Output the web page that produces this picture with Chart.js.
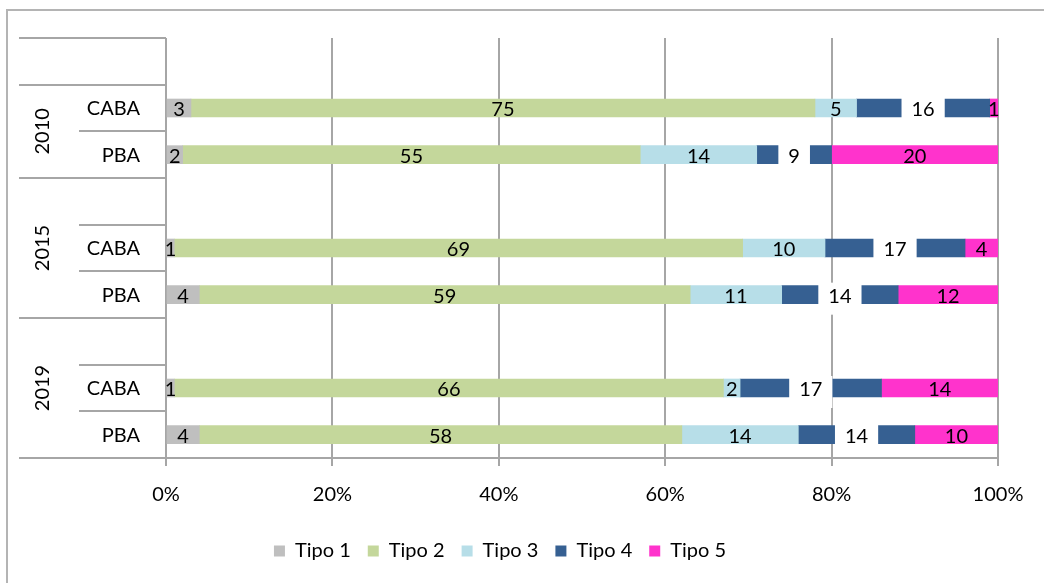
<!DOCTYPE html>
<html>
<head>
<meta charset="utf-8">
<script src="https://cdn.jsdelivr.net/npm/chart.js@4.4.1/dist/chart.umd.min.js"></script>
<style>
  html, body { margin: 0; padding: 0; background: #fff; }
  #wrap { position: absolute; left: 0; top: 0; width: 1044px; height: 583px; }
</style>
</head>
<body>
<div id="wrap"><canvas id="chart" width="1044" height="583"></canvas></div>
<script>
// rows of the chart, blank rows are the gaps between years
const years = ["", "2010", "2015", "2019"]
const rowYear = [0, 1, 1, 2, 2, 2, 3, 3, 3]
const rowLabels = ["", "CABA", "PBA", "", "CABA", "PBA", "", "CABA", "PBA"]

const seriesNames = ["Tipo 1", "Tipo 2", "Tipo 3", "Tipo 4", "Tipo 5"]
const seriesColors = ["#bfbfbf", "#c4d79b", "#b7dee8", "#366092", "#ff33cc"]

const tipo1 = [null, 3, 2, null, 1, 4, null, 1, 4]
const tipo2 = [null, 75, 55, null, 69, 59, null, 66, 58]
const tipo3 = [null, 5, 14, null, 10, 11, null, 2, 14]
const tipo4 = [null, 16, 9, null, 17, 14, null, 17, 14]
const tipo5 = [null, 1, 20, null, 4, 12, null, 14, 10]

const xTicks = ["0%", "20%", "40%", "60%", "80%", "100%"]

const FONT = "Lato, 'Open Sans', sans-serif"
const LINE = "#a6a6a6"

const raw = [tipo1, tipo2, tipo3, tipo4, tipo5]
const totals = rowLabels.map((l, i) => raw.reduce((s, arr) => s + (arr[i] || 0), 0))

const datasets = raw.map((arr, k) => {
    return {
        label: seriesNames[k],
        data: arr.map((v, i) => v == null ? null : v / totals[i] * 100),
        raw: arr,
        backgroundColor: seriesColors[k],
        borderWidth: 0,
        barThickness: 18
    }
})

// border, category area lines and labels
const categoryPlugin = {
    id: "categories",
    beforeDraw(chart) {
        const ctx = chart.ctx
        ctx.save()
        ctx.strokeStyle = "#b4b4b4"
        ctx.lineWidth = 2
        ctx.beginPath()
        ctx.moveTo(7, 583)
        ctx.lineTo(7, 10)
        ctx.lineTo(1044, 10)
        ctx.stroke()
        ctx.restore()
    },
    afterDraw(chart) {
        const ctx = chart.ctx
        const y = chart.scales.y
        const area = chart.chartArea
        const half = (y.getPixelForValue(1) - y.getPixelForValue(0)) / 2
        ctx.save()
        ctx.strokeStyle = LINE
        ctx.lineWidth = 2
        for (let i = 0; i <= rowLabels.length; i++) {
            const py = i < rowLabels.length ? y.getPixelForValue(i) - half : y.getPixelForValue(i - 1) + half
            const groupEdge = i === 0 || i === rowLabels.length || rowYear[i] !== rowYear[i - 1]
            ctx.beginPath()
            ctx.moveTo(groupEdge ? 19 : 79, Math.round(py))
            ctx.lineTo(i === rowLabels.length ? area.right : area.left, Math.round(py))
            ctx.stroke()
        }
        ctx.fillStyle = "#000"
        ctx.font = "20px " + FONT
        ctx.textBaseline = "middle"
        ctx.textAlign = "right"
        rowLabels.forEach((l, i) => {
            if (l) ctx.fillText(l, 140, y.getPixelForValue(i) + 1)
        })
        for (let g = 1; g < years.length; g++) {
            const idx = rowYear.map((r, i) => r === g ? i : -1).filter(i => i >= 0)
            const cy = (y.getPixelForValue(idx[0]) + y.getPixelForValue(idx[idx.length - 1])) / 2
            ctx.save()
            ctx.translate(43, cy)
            ctx.rotate(-Math.PI / 2)
            ctx.textAlign = "center"
            ctx.fillText(years[g], 0, 0)
            ctx.restore()
        }
        // value labels
        chart.data.datasets.forEach((ds, k) => {
            const meta = chart.getDatasetMeta(k)
            meta.data.forEach((bar, i) => {
                const v = ds.raw[i]
                if (v == null) return
                const cx = (bar.x + bar.base) / 2
                const txt = String(v)
                if (k === 3) {
                    const w = ctx.measureText(txt).width + 20
                    ctx.fillStyle = "#fff"
                    ctx.fillRect(cx - w / 2, bar.y - 12, w, 32)
                }
                ctx.fillStyle = "#000"
                ctx.textAlign = "center"
                ctx.fillText(txt, cx, bar.y + 2)
            })
        })
        ctx.restore()
    }
}

new Chart(document.getElementById("chart"), {
    type: "bar",
    data: { labels: rowLabels, datasets: datasets },
    options: {
        indexAxis: "y",
        responsive: false,
        animation: false,
        layout: { padding: { left: 2, right: 46, top: 38, bottom: 12 } },
        scales: {
            x: {
                stacked: true,
                min: 0,
                max: 100,
                ticks: {
                    stepSize: 20,
                    padding: 17,
                    color: "#000",
                    font: { family: FONT, size: 20 },
                    callback: (v, i) => xTicks[i]
                },
                grid: { color: LINE, lineWidth: 2, tickLength: 8 },
                border: { color: LINE, width: 2 },
                afterFit: (scale) => { scale.height = 66 }
            },
            y: {
                stacked: true,
                ticks: { display: false },
                grid: { display: false },
                border: { display: false },
                afterFit: (scale) => { scale.width = 164 }
            }
        },
        plugins: {
            legend: {
                position: "bottom",
                labels: {
                    boxWidth: 11,
                    boxHeight: 11,
                    padding: 17,
                    color: "#000",
                    font: { family: FONT, size: 20 }
                }
            },
            tooltip: { enabled: false }
        }
    },
    plugins: [categoryPlugin]
})
</script>
</body>
</html>
